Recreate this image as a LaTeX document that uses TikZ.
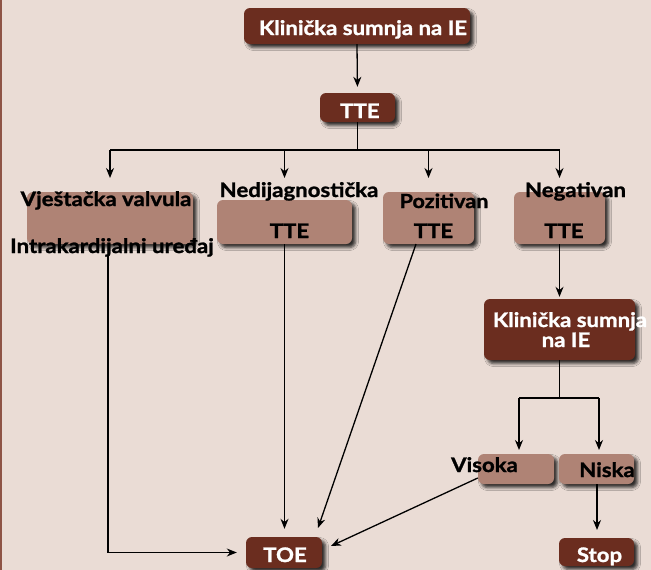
\documentclass[tikz,border=0pt]{standalone}
\usepackage{fontspec}
\setmainfont{Lato}[FakeStretch=1.11, BoldFeatures={FakeBold=1.3}]
\usetikzlibrary{arrows.meta,shadows.blur}
\definecolor{bg}{HTML}{EADCD5}
\definecolor{edge}{HTML}{8E5446}
\definecolor{darkbrown}{HTML}{6B2D1F}
\definecolor{lightbrown}{HTML}{AF8375}
\tikzset{
  boxshadow/.style={blur shadow={shadow xshift=3.5pt, shadow yshift=-3.5pt, shadow blur radius=3pt, shadow opacity=80}},
  darkbox/.style={boxshadow, fill=darkbrown, rounded corners=6pt, inner sep=0pt},
  lightbox/.style={boxshadow, fill=lightbrown, rounded corners=6pt, inner sep=0pt},
  lbl/.style={font=\bfseries\fontsize{20}{23}\selectfont, inner sep=0pt, anchor=base, text=black},
  wlbl/.style={lbl, text=white},
  conn/.style={line width=1.3pt, -{Stealth[length=10pt,width=8pt]}},
  plain/.style={line width=1.3pt}
}
\begin{document}
\begin{tikzpicture}[x=1pt,y=-1pt]
  \useasboundingbox (0,0) rectangle (651,570);
  \fill[bg] (0,0) rectangle (651,570);
  \fill[edge] (0,0) rectangle (2.2,570);

  % boxes
  \node[darkbox, minimum width=226pt, minimum height=36pt] (k1) at (357,26) {};
  \node[darkbox, minimum width=75pt, minimum height=29pt] (tte) at (357.5,107.5) {};
  \node[lightbox, minimum width=166pt, minimum height=52pt] (b1) at (110,218) {};
  \node[lightbox, minimum width=135pt, minimum height=44pt] (b2) at (284.5,222) {};
  \node[lightbox, minimum width=91pt, minimum height=52pt] (b3) at (428.5,218) {};
  \node[lightbox, minimum width=91pt, minimum height=52pt] (b4) at (559.5,218) {};
  \node[darkbox, minimum width=151pt, minimum height=61pt] (k2) at (559.5,329.5) {};
  \node[lightbox, minimum width=76pt, minimum height=30pt] (vis) at (516,469) {};
  \node[lightbox, minimum width=75pt, minimum height=30pt] (nis) at (596.5,469) {};
  \node[darkbox, minimum width=75pt, minimum height=28pt] (stop) at (596.5,552) {};
  \node[darkbox, minimum width=76pt, minimum height=31pt] (toe) at (284,552.5) {};

  % labels
  \node[wlbl] (tk1) at (363,35) {Klinička sumnja na IE};
  \node[wlbl] (ttte) at (360,118) {TTE};
  \node[lbl] (tb1a) at (106,206) {Vještačka valvula};
  \node[lbl] (tb1b) at (112,253) {Intrakardijalni uređaj};
  \node[lbl] (tb2a) at (299,197) {Nedijagnostička};
  \node[lbl] (tb2b) at (289.5,238) {TTE};
  \node[lbl, font=\bfseries\fontsize{19.5}{22}\selectfont] (tb3a) at (444,208) {Pozitivan};
  \node[lbl] (tb3b) at (433.5,238) {TTE};
  \node[lbl] (tb4a) at (575.5,197) {Negativan};
  \node[lbl] (tb4b) at (564,238) {TTE};
  \node[wlbl] (tk2a) at (570,327) {Klinička sumnja};
  \node[wlbl] (tk2b) at (566,347) {na IE};
  \node[lbl] (tvis) at (484.5,472) {Visoka};
  \node[lbl] (tnis) at (607,477) {Niska};
  \node[wlbl] (tstop) at (599.5,562) {Stop};
  \node[wlbl] (ttoe) at (285,562) {TOE};

  % connectors
  \coordinate (bus) at (357.5,150);
  \coordinate (bus2) at (559.5,398);
  \draw[conn, shorten >=6pt] (k1.south) -- (tte.north);
  \draw[plain] (tte.south) -- (bus);
  \draw[plain] (b1.center |- bus) -- (b4.center |- bus);
  \foreach \b in {b1,b2,b3,b4}
    \draw[conn] (\b.center |- bus) -- ++(0,28);
  \draw[conn, shorten >=2pt] (b4.south) -- (k2.north);
  \draw[plain] (k2.south) -- (bus2);
  \draw[plain] (519,398) -- (599,398);
  \draw[conn] (519,398) -- (519,450);
  \draw[conn] (599,398) -- (599,450);
  \draw[conn, shorten >=8pt] (597,484) -- (597,538);
  \draw[conn, shorten >=9pt] (108,256) |- (toe.west);
  \draw[conn, shorten >=8pt] (b2.south) -- (b2.south |- toe.north);
  \draw[conn] (416,244) -- (318,528);
  \draw[conn] (vis.west |- 0,478) -- (331,546);
\end{tikzpicture}
\end{document}
